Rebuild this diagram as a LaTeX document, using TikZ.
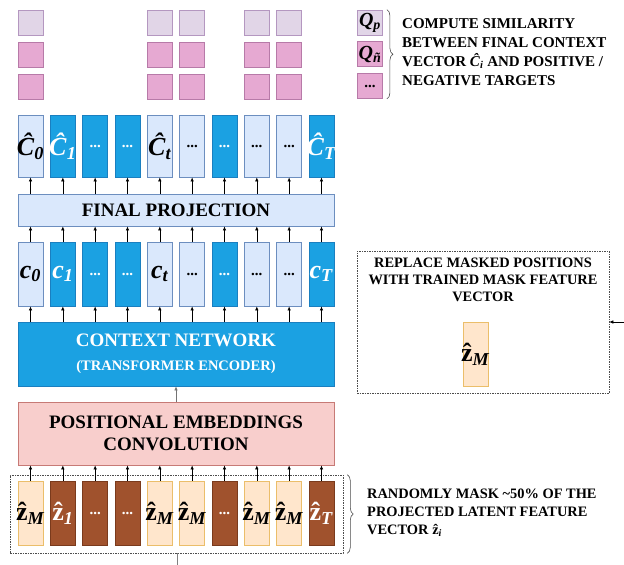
\documentclass[tikz,border=0pt]{standalone}
\usepackage{fontspec}
\setmainfont{Liberation Serif}
\usepackage{tikz}
\usetikzlibrary{arrows.meta, positioning, decorations.pathreplacing}

\definecolor{lblue}{HTML}{DAE8FC}
\definecolor{lblueB}{HTML}{6C8EBF}
\definecolor{dblue}{HTML}{1BA1E2}
\definecolor{dblueB}{HTML}{1A7FC0}
\definecolor{posF}{HTML}{F8CECC}
\definecolor{posB}{HTML}{C77A76}
\definecolor{zlight}{HTML}{FFE6CC}
\definecolor{zlightB}{HTML}{EBBE6A}
\definecolor{zdark}{HTML}{A0522D}
\definecolor{zdarkB}{HTML}{7A3A1C}
\definecolor{lav}{HTML}{E1D5E7}
\definecolor{lavB}{HTML}{B497C0}
\definecolor{pinkq}{HTML}{E6A9D2}
\definecolor{pinkqB}{HTML}{B77AA8}

\newcommand{\dotlbl}{{\fontsize{15}{15}\selectfont\textbf{...}}}
% italic symbol with italic subscript
\newcommand{\vsym}[2]{\textbf{\textit{#1}}\textsubscript{\textbf{\textit{#2}}}}
% latent symbol: upright z with hat
\newcommand{\zsym}[1]{\textbf{\^{z}}\textsubscript{\textbf{\textit{#1}}}}

\tikzset{
    vec/.style={draw, line width=0.8pt, minimum width=25pt, minimum height=64pt, inner sep=0pt},
    vecL/.style={vec, fill=lblue, draw=lblueB},
    vecD/.style={vec, fill=dblue, draw=dblueB},
    zvecL/.style={vec, fill=zlight, draw=zlightB},
    zvecD/.style={vec, fill=zdark, draw=zdarkB},
    lbl/.style={inner sep=0pt, font=\fontsize{26}{26}\selectfont},
    lblL/.style={lbl, text=black},
    lblD/.style={lbl, text=white},
    bar/.style={draw, line width=0.8pt, minimum width=316pt, inner sep=0pt, align=center,
        font=\bfseries\fontsize{19}{22}\selectfont},
    qbox/.style={draw, line width=0.8pt, minimum width=25pt, minimum height=25pt, inner sep=0pt},
    up/.style={-{Latex[length=4pt,width=3.5pt]}, line width=0.6pt},
    dashbox/.style={draw=black!70, line width=0.6pt, dash pattern=on 1.5pt off 1pt, inner sep=0pt},
    brace/.style={decorate, decoration={brace, amplitude=6pt}, line width=0.6pt, draw=black!70},
    note/.style={anchor=west, align=left, inner sep=0pt}
}

\begin{document}
\begin{tikzpicture}[x=1pt, y=-1pt]
    \useasboundingbox (0,0) rectangle (624,565);

    % target squares
    \foreach \i in {1,5,6,8,9}{
        \node[qbox, fill=lav, draw=lavB] (qa\i) at ({30.5+32.33*(\i-1)},22.5) {};
        \node[qbox, fill=pinkq, draw=pinkqB] (qb\i) at ({30.5+32.33*(\i-1)},55) {};
        \node[qbox, fill=pinkq, draw=pinkqB] (qc\i) at ({30.5+32.33*(\i-1)},86.5) {};
    }

    % legend
    \node[qbox, fill=lav, draw=lavB, font=\fontsize{20}{20}\selectfont] (qp) at (370,22.5) {\vsym{Q}{p}};
    \node[qbox, fill=pinkq, draw=pinkqB, font=\fontsize{20}{20}\selectfont] (qn) at (370,54) {\vsym{Q}{ñ}};
    \node[qbox, fill=pinkq, draw=pinkqB] (qd) at (370,86) {\dotlbl};
    \draw[brace] ([xshift=4pt]qp.north east) -- ([xshift=4pt]qd.south east);
    \node[note, font=\bfseries\fontsize{15}{19}\selectfont] (qnote) at (402,52)
        {COMPUTE SIMILARITY\\BETWEEN FINAL CONTEXT\\VECTOR \vsym{Ĉ}{i} AND POSITIVE /\\NEGATIVE TARGETS};

    % final context vectors
    \foreach \i/\k/\lab in {1/L/{\vsym{Ĉ}{0}}, 2/D/{\vsym{Ĉ}{1}}, 3/D/\dotlbl, 4/D/\dotlbl,
        5/L/{\vsym{Ĉ}{t}}, 6/L/\dotlbl, 7/D/\dotlbl, 8/L/\dotlbl, 9/L/\dotlbl, 10/D/{\vsym{Ĉ}{T}}}{
        \node[vec\k, minimum height=62pt] (chat\i) at ({30.5+32.33*(\i-1)},146) {};
        \node[lbl\k] at (chat\i) {\lab};
    }

    \node[bar, fill=lblue, draw=lblueB, minimum height=32pt] (proj) at (176,210) {FINAL PROJECTION};

    % context vectors
    \foreach \i/\k/\lab in {1/L/{\vsym{c}{0}}, 2/D/{\vsym{c}{1}}, 3/D/\dotlbl, 4/D/\dotlbl,
        5/L/{\vsym{c}{t}}, 6/L/\dotlbl, 7/D/\dotlbl, 8/L/\dotlbl, 9/L/\dotlbl, 10/D/{\vsym{c}{T}}}{
        \node[vec\k] (c\i) at ({30.5+32.33*(\i-1)},274) {};
        \node[lbl\k] at (c\i) {\lab};
    }

    \node[bar, fill=dblue, draw=dblueB, text=white, minimum height=64pt] (ctx) at (176,354)
        {CONTEXT NETWORK\\[2pt]{\fontsize{14.5}{17}\selectfont (TRANSFORMER ENCODER)}};

    \node[bar, fill=posF, draw=posB, minimum height=63pt, font=\bfseries\fontsize{19}{22.5}\selectfont] (pos) at (176,433.5)
        {POSITIONAL EMBEDDINGS\\CONVOLUTION};

    % latent vectors, masked
    \foreach \i/\k/\lab in {1/L/{\zsym{M}}, 2/D/{\zsym{1}}, 3/D/\dotlbl, 4/D/\dotlbl,
        5/L/{\zsym{M}}, 6/L/{\zsym{M}}, 7/D/\dotlbl, 8/L/{\zsym{M}},
        9/L/{\zsym{M}}, 10/D/{\zsym{T}}}{
        \node[zvec\k] (z\i) at ({30.5+32.33*(\i-1)},513) {};
        \node[lbl\k] at (z\i) {\lab};
    }
    \node[dashbox, minimum width=333pt, minimum height=78pt] (zgrp) at (176.5,514) {};
    \draw[brace] ([xshift=4pt]zgrp.north east) -- ([xshift=4pt]zgrp.south east);
    \node[note, font=\bfseries\fontsize{14.4}{18}\selectfont] (znote) at (367,513)
        {RANDOMLY MASK \textasciitilde 50\% OF THE\\PROJECTED LATENT FEATURE\\VECTOR \zsym{i}};
    \coordinate (zin) at (177,570);
    \draw[black!50, line width=0.8pt] (zin) -- (zin |- zgrp.south);

    % arrows between the rows
    \foreach \i in {1,...,10}{
        \draw[up] (z\i.north) -- (z\i.north |- pos.south);
        \draw[up] (ctx.north -| c\i) -- (c\i.south);
        \draw[up] (c\i.north) -- (c\i.north |- proj.south);
        \draw[up] (proj.north -| chat\i) -- (chat\i.south);
    }
    \draw[up, black!55] (pos.north) -- (ctx.south);

    % mask vector
    \node[dashbox, minimum width=252pt, minimum height=142pt] (rep) at (483,322) {};
    \node[anchor=north, align=center, inner sep=0pt, font=\bfseries\fontsize{14.4}{17}\selectfont] (reptxt) at (483,258)
        {REPLACE MASKED POSITIONS\\WITH TRAINED MASK FEATURE\\VECTOR};
    \node[zvecL] (zm) at (475.5,354) {};
    \node[lblL] at (zm) {\zsym{M}};
    \coordinate (feed) at (628,322);
    \draw[up] (feed) -- (rep.east);
\end{tikzpicture}
\end{document}
